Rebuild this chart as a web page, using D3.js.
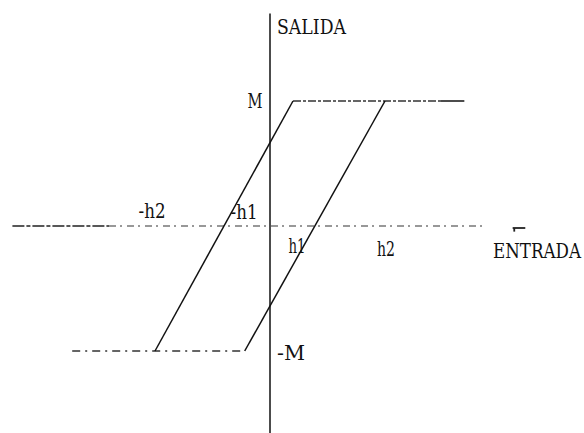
<!DOCTYPE html>
<html>
<head>
<meta charset="utf-8">
<script src="https://cdn.jsdelivr.net/npm/d3@7"></script>
<style>
  body { margin: 0; background: #fff; }
  svg { display: block; }
  .lbl { font-family: "DejaVu Serif", "Liberation Serif", serif; fill: #111; }
</style>
</head>
<body>
<svg id="chart"></svg>
<script>
// hysteresis data, input in units (h1 = 2, h2 = 5), output in units of M
const h1 = 2, h2 = 5, M = 1
const upperBranch = [[1, M], [8.45, M]]           // top saturation
const lowerBranch = [[-8.6, -M], [-1.1, -M]]      // bottom saturation
const risingEdge = [[-h2, -M], [1, M]]            // left slope, crosses at -h1
const fallingEdge = [[-1.1, -M], [h2, M]]         // right slope, crosses at h1
const xAxisRange = [-11.2, 9.3]
const yAxisRange = [-1.66, 1.7]

const tickLabels = [
  { t: '-h2', x: -h2, y: 0, dx: -3, dy: -8, len: 27 },
  { t: '-h1', x: -h1, y: 0, dx: 20, dy: -7, len: 27 },
  { t: 'h1', x: h1, y: 0, dx: -19, dy: 27, len: 17 },
  { t: 'h2', x: h2, y: 0, dx: 1, dy: 30, len: 18 },
  { t: 'M', x: 0, y: M, dx: -15, dy: 7, len: 15 },
  { t: '-M', x: 0, y: -M, dx: 21, dy: 9, len: 28 }
]

const width = 584, height = 433
const svg = d3.select('#chart').attr('width', width).attr('height', height)

const xScale = d3.scaleLinear().domain([-11, 11]).range([17, 523])
const yScale = d3.scaleLinear().domain([-1, 1]).range([351, 101])

const line = d3.line().x(d => xScale(d[0])).y(d => yScale(d[1]))

// horizontal axis (broken in the scan)
svg.append('path')
  .attr('d', line([[xAxisRange[0], 0], [-7, 0]]))
  .attr('stroke', '#222').attr('stroke-width', 1.3).attr('stroke-dasharray', '12,2,4,2')
svg.append('path')
  .attr('d', line([[-7, 0], [xAxisRange[1], 0]]))
  .attr('stroke', '#333').attr('stroke-width', 1.2).attr('stroke-dasharray', '7,4,2,5')

// little arrow mark at the end of the axis
svg.append('path')
  .attr('d', line([[10.55, -0.016], [11.1, -0.016]]))
  .attr('stroke', '#222').attr('stroke-width', 1.8)
svg.append('path')
  .attr('d', line([[10.62, -0.045], [10.62, -0.016]]))
  .attr('stroke', '#222').attr('stroke-width', 1.8).attr('fill', 'none')

// vertical axis
svg.append('path')
  .attr('d', line([[0, yAxisRange[0]], [0, yAxisRange[1]]]))
  .attr('stroke', '#111').attr('stroke-width', 1.5)

// saturation lines
svg.append('path')
  .attr('d', line([upperBranch[0], [7.4, M]]))
  .attr('stroke', '#333').attr('stroke-width', 1.4).attr('stroke-dasharray', '8,2,3,2')
svg.append('path')
  .attr('d', line([[7.4, M], upperBranch[1]]))
  .attr('stroke', '#111').attr('stroke-width', 1.5)
svg.append('path')
  .attr('d', line(lowerBranch))
  .attr('stroke', '#333').attr('stroke-width', 1.3).attr('stroke-dasharray', '8,5,2,5')

// slopes
;[risingEdge, fallingEdge].forEach(e => {
  svg.append('path')
    .attr('d', line(e))
    .attr('stroke', '#111').attr('stroke-width', 1.5).attr('fill', 'none')
})

// labels
svg.selectAll('.tick-lbl').data(tickLabels).enter().append('text')
  .attr('class', 'lbl tick-lbl')
  .attr('x', d => xScale(d.x) + d.dx)
  .attr('y', d => yScale(d.y) + d.dy)
  .attr('text-anchor', 'middle')
  .attr('font-size', 20)
  .attr('textLength', d => d.len)
  .attr('lengthAdjust', 'spacingAndGlyphs')
  .text(d => d.t)

svg.append('text').attr('class', 'lbl')
  .attr('x', xScale(0) + 7).attr('y', yScale(yAxisRange[1]) + 20)
  .attr('font-size', 21).attr('textLength', 69).attr('lengthAdjust', 'spacingAndGlyphs')
  .text('SALIDA')

// axis title, stretched vertically so it fits at the right edge
svg.append('text').attr('class', 'lbl')
  .attr('transform', `translate(493, ${yScale(0) + 32}) scale(1, 1.25)`)
  .attr('font-size', 16).attr('textLength', 88).attr('lengthAdjust', 'spacingAndGlyphs')
  .text('ENTRADA')
</script>
</body>
</html>
